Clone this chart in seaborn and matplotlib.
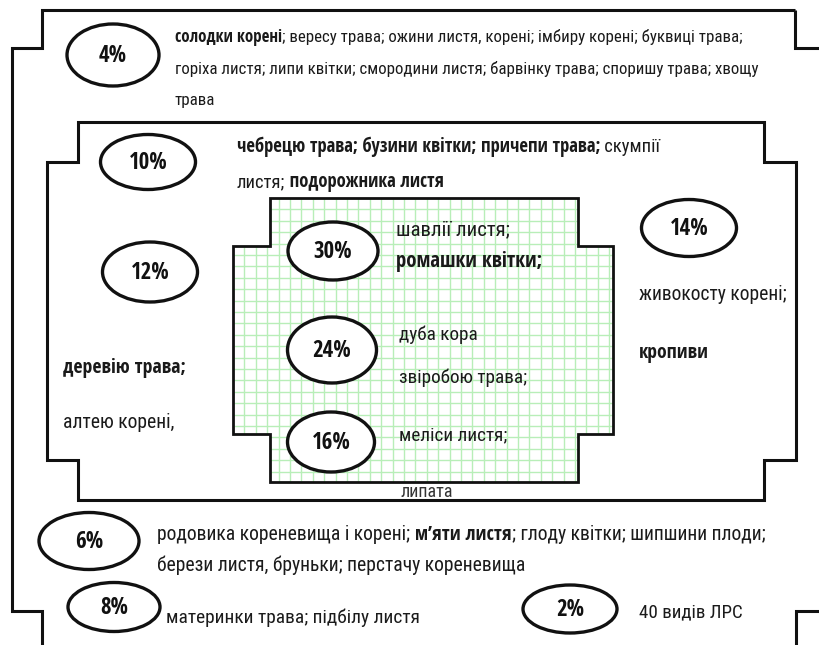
import os
import matplotlib
matplotlib.use("Agg")
import numpy as np
import matplotlib.pyplot as plt
import seaborn as sns
from matplotlib.patches import Ellipse, Polygon, Rectangle
from matplotlib import font_manager
from matplotlib.font_manager import FontProperties

# ---------------- data ----------------
pct_labels = ["4%", "10%", "12%", "30%", "14%", "24%", "16%", "6%", "8%", "2%"]

desc_4 = [
    [("солодки корені", True), ("; вересу трава; ожини листя, корені; імбиру корені; буквиці трава;", False)],
    [("горіха листя; липи квітки; смородини листя; барвінку трава; споришу трава; хвощу", False)],
    [("трава", False)],
]
desc_10 = [
    [("чебрецю трава; бузини квітки; причепи трава;", True), (" скумпії", False)],
    [("листя;", False), (" подорожника листя", True)],
]
desc_30 = [[("шавлії листя;", False)], [("ромашки квітки;", True)]]
desc_14 = [[("живокосту корені;", False)], [("кропиви", True)]]
desc_12 = [[("деревію трава;", True)], [("алтею корені,", False)]]
desc_24 = [[("дуба кора", False)], [("звіробою трава;", False)]]
desc_16 = [[("меліси листя;", False)]]
desc_6 = [
    [("родовика кореневища і корені;", False), (" м’яти листя", True), ("; глоду квітки; шипшини плоди;", False)],
    [("берези листя, бруньки; перстачу кореневища", False)],
]
desc_8 = [[("материнки трава; підбілу листя", False)]]
desc_2 = [[("40 видів ЛРС", False)]]
hidden_text = "липата"

# ---------------- style ----------------
sns.set_theme(style="white")
plt.rcParams["font.family"] = ["Roboto", "DejaVu Sans"]

def find_font(basenames):
    for b in basenames:
        for f in font_manager.fontManager.ttflist:
            if os.path.basename(f.fname) == b:
                return f.fname
    return None

REG_FILE = find_font(["RobotoCondensed-Regular.ttf", "FiraSansCondensed-Regular.ttf", "PT_Sans-Narrow-Web-Regular.ttf"])
BOLD_FILE = find_font(["OpenSans-CondBold.ttf", "RobotoCondensed-Bold.ttf", "PT_Sans-Narrow-Web-Bold.ttf"])

def fp(bold, size):
    f = BOLD_FILE if bold else REG_FILE
    if f:
        return FontProperties(fname=f, size=size)
    return FontProperties(family=["DejaVu Sans"], weight="bold" if bold else "normal",
                          stretch="condensed", size=size)

fig = plt.figure(figsize=(8.2, 6.45), dpi=100)
ax = fig.add_axes([0, 0, 1, 1])
ax.set_xlim(0, 820)
ax.set_ylim(645, 0)
ax.axis("off")
fig.patch.set_facecolor("white")

LC = "#111111"
TC = "#1a1a1a"

# outer frame
kw = dict(color=LC, lw=2.2, solid_joinstyle="miter", solid_capstyle="butt", zorder=3)
ax.plot([795, 42, 42, 12, 12, 42, 42], [10, 10, 48, 48, 611, 611, 650], **kw)
ax.plot([795, 795, 825], [10, 48, 48], **kw)
ax.plot([825, 796, 796], [611, 611, 650], **kw)

# middle frame
mid = [(78, 122), (764, 122), (764, 162), (796, 162), (796, 460), (764, 460), (764, 500),
       (78, 500), (78, 460), (47, 460), (47, 162), (78, 162)]
ax.add_patch(Polygon(mid, closed=True, fc="none", ec=LC, lw=2.2, joinstyle="miter", zorder=3))

# inner green grid box
inner = [(270, 198), (578, 198), (578, 246), (613, 246), (613, 434), (578, 434), (578, 482),
         (270, 482), (270, 434), (233, 434), (233, 246), (270, 246)]
bg = Polygon(inner, closed=True, fc="white", ec="none", zorder=1)
ax.add_patch(bg)
xs = np.arange(233, 614, 11.4)
ys = np.arange(198, 483, 11.4)
vl = ax.vlines(xs, 198, 482, color="#b8eeb8", lw=1.0, zorder=2)
hl = ax.hlines(ys, 233, 613, color="#b8eeb8", lw=1.0, zorder=2)
vl.set_clip_path(bg)
hl.set_clip_path(bg)
ax.add_patch(Polygon(inner, closed=True, fc="none", ec=LC, lw=2.0, joinstyle="miter", zorder=3))

# partly hidden (clipped) text under the inner box
ht = ax.text(400, 497, hidden_text, fontproperties=fp(False, 13), ha="left", va="baseline",
             color="#333333", zorder=2)
clipr = Rectangle((395, 480), 70, 8, transform=ax.transData, fc="none", ec="none")
ax.add_patch(clipr)
ht.set_clip_path(clipr)

# ellipses with percentages (layout)
ell_cx = [113, 148, 150, 333, 689, 332, 331, 89, 114, 570]
ell_cy = [55, 162, 272, 251, 228, 350, 442, 541, 607, 609]
ell_w = [92, 95, 95, 90, 95, 89, 87, 100, 92, 94]
ell_h = [62, 55, 60, 58, 57, 66, 60, 57, 49, 48]
for lab, cx, cy, w, h in zip(pct_labels, ell_cx, ell_cy, ell_w, ell_h):
    ax.add_patch(Ellipse((cx, cy), w, h, fc="white", ec=LC, lw=2.4, zorder=5))
    ax.text(cx, cy + 1, lab, fontproperties=fp(True, 16.5), ha="center", va="center",
            zorder=6, color=LC)


def rich(x, y, segs, size):
    prev = None
    arts = []
    for txt, bold in segs:
        if prev is None:
            prev = ax.text(x, y, txt, fontproperties=fp(bold, size), ha="left", va="center",
                           color=TC, zorder=6)
        else:
            prev = ax.annotate(txt, xy=(1, 0.5), xycoords=prev, fontproperties=fp(bold, size),
                               ha="left", va="center", color=TC, zorder=6)
        arts.append(prev)
    return arts


blocks = []


def block(x, y0, dy, lines, target_ws):
    lines_arts = [rich(x, y0 + i * dy, segs, 10) for i, segs in enumerate(lines)]
    blocks.append((lines_arts, target_ws))


block(175, 37, 32, desc_4, [558, 585, None])
block(237, 147, 35, desc_10, [442, 199])
block(396, 230, 32, desc_30, [114, 146])
block(639, 295, 58, desc_14, [146, 70])
block(63, 368, 55, desc_12, [123, 110])
block(399, 335, 43, desc_24, [79, 126])
block(399, 435, 30, desc_16, [107])
block(157, 535, 30, desc_6, [609, 366])
block(166, 618, 30, desc_8, [252])
block(639, 612, 30, desc_2, [104])

# scale each block so that its lines best match the reference widths
fig.canvas.draw()
r = fig.canvas.get_renderer()
for lines_arts, tws in blocks:
    scales = []
    for la, tw in zip(lines_arts, tws):
        if tw is None:
            continue
        x0 = la[0].get_window_extent(r).x0
        x1 = la[-1].get_window_extent(r).x1
        scales.append(tw / (x1 - x0))
    s = 10 * float(np.mean(scales))
    for la in lines_arts:
        for a in la:
            a.set_fontsize(s)

fig.savefig("out.png", dpi=100, facecolor="white")
